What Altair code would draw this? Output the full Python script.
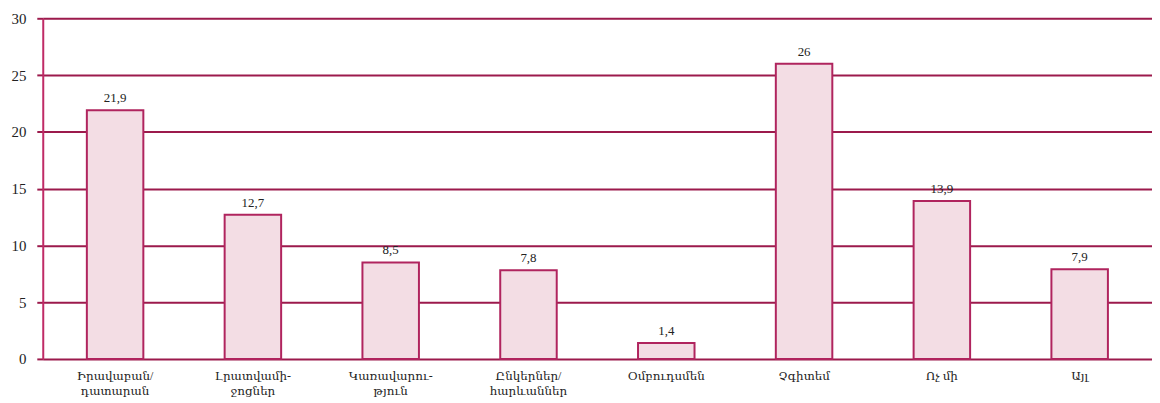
import altair as alt
import pandas as pd

categories = [
    "Իրավաբան/\nդատարան",
    "Լրատվամի-\nջոցներ",
    "Կառավարու-\nթյուն",
    "Ընկերներ/\nհարևաններ",
    "Օմբուդսմեն",
    "Չգիտեմ",
    "Ոչ մի",
    "Այլ",
]
values = [21.9, 12.7, 8.5, 7.8, 1.4, 26, 13.9, 7.9]
value_labels = ["21,9", "12,7", "8,5", "7,8", "1,4", "26", "13,9", "7,9"]
y_ticks = [0, 5, 10, 15, 20, 25, 30]

df = pd.DataFrame({"cat": categories, "val": values, "lbl": value_labels})

FONT = "Liberation Serif, DejaVu Serif, serif"
GRID = "#9c1a4c"
BAR_STROKE = "#b0245e"

x_enc = alt.X(
    "cat:N",
    sort=categories,
    scale=alt.Scale(paddingInner=0.59, paddingOuter=0.32),
    axis=alt.Axis(
        title=None,
        labelAngle=0,
        ticks=False,
        domain=False,
        labelPadding=12,
        labelFont=FONT,
        labelFontSize=12,
        labelColor="#222222",
        labelLineHeight=15,
        labelExpr="split(datum.label, '\\n')",
    ),
)
y_enc = alt.Y(
    "val:Q",
    scale=alt.Scale(domain=[0, 30], nice=False),
    axis=alt.Axis(
        title=None,
        values=y_ticks,
        grid=True,
        gridColor=GRID,
        gridWidth=2,
        gridOpacity=1,
        tickColor=GRID,
        tickWidth=2,
        tickSize=6,
        domain=True,
        domainColor="#c02a66",
        domainWidth=2,
        labelPadding=11,
        labelFont=FONT,
        labelFontSize=15,
        labelColor="#222222",
    ),
)

bars = alt.Chart(df).mark_bar(
    fill="#f3dde4", stroke=BAR_STROKE, strokeWidth=2
).encode(x=x_enc, y=y_enc)

text = alt.Chart(df).mark_text(
    dy=-12, font=FONT, fontSize=13, color="#222222"
).encode(x=alt.X("cat:N", sort=categories), y="val:Q", text="lbl:N")

chart = (
    alt.layer(bars, text)
    .properties(
        width=1117,
        height=343,
        autosize=alt.AutoSizeParams(type="none"),
        padding={"left": 35, "top": 9, "right": 0, "bottom": 40},
    )
    .configure_view(stroke=None)
    .configure(background="white")
)

chart.save("out.html", embed_options={"renderer": "svg", "actions": False})
